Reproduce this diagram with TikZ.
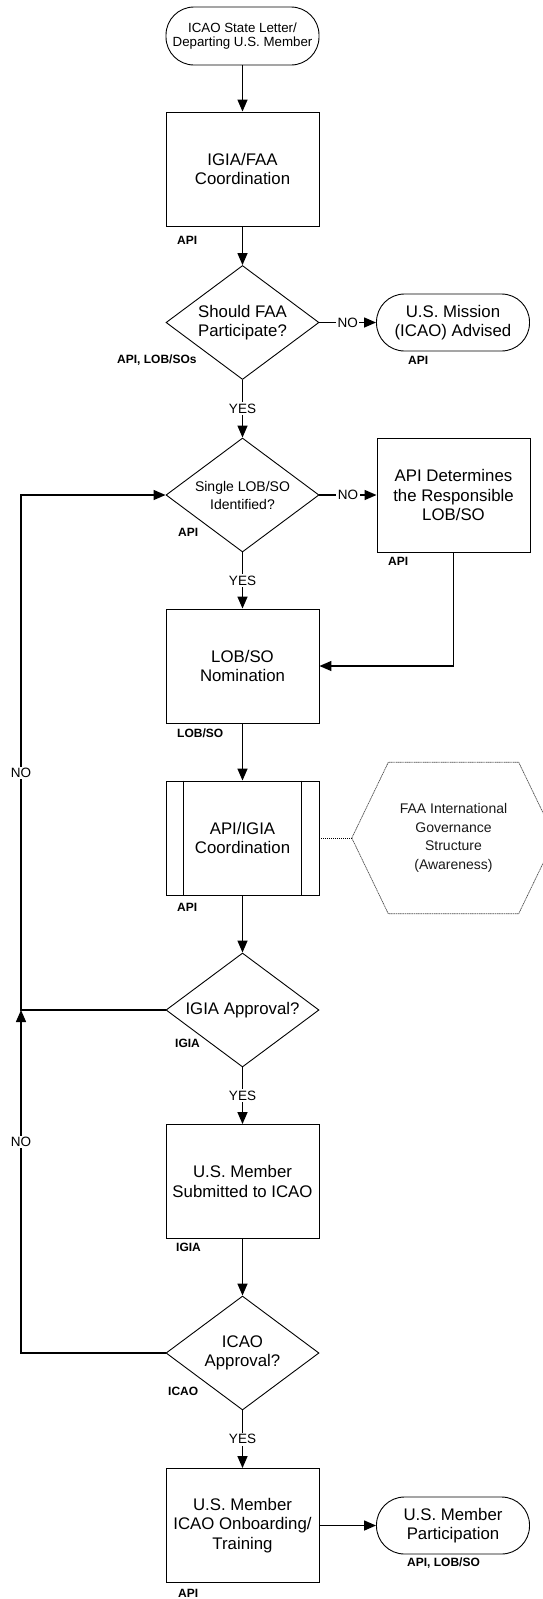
\documentclass[tikz,border=0pt]{standalone}
\usepackage{fontspec}
\setmainfont{Liberation Sans}
\usetikzlibrary{shapes.geometric, arrows.meta}

\begin{document}
\begin{tikzpicture}[x=1pt, y=-1pt,
        >={Triangle[length=12pt, width=10pt]},
        every node/.style={font=\fontsize{16.8}{19.5}\selectfont, align=center},
        proc/.style={draw, rectangle, line width=0.9pt, minimum width=153pt, minimum height=114pt, inner sep=2pt},
        term/.style={draw, rectangle, rounded corners=28pt, line width=0.9pt, minimum width=153pt, minimum height=57pt, inner sep=2pt},
        decide/.style={draw, diamond, aspect=1.34, line width=0.9pt, minimum width=153pt, minimum height=114pt, inner sep=0pt},
        owner/.style={font=\bfseries\fontsize{12}{13}\selectfont, inner sep=0pt, anchor=west},
        ans/.style={font=\fontsize{13.5}{14}\selectfont, fill=white, inner sep=1.5pt},
        flow/.style={line width=1.4pt}]
        \useasboundingbox (0,0) rectangle (543,1599);
        \clip (0,0) rectangle (543,1599);

        \node (start)   at (242.5,   36) [term, minimum height=58pt, font=\fontsize{13.3}{14.5}\selectfont] {ICAO State Letter/\\Departing U.S. Member};
        \node (igia)    at (242.5,  169) [proc] {IGIA/FAA\\Coordination};
        \node (fpart)   at (242.5,  322.5) [decide] {Should FAA\\Participate?};
        \node (mission) at (453.0,  322.5) [term] {U.S. Mission\\(ICAO) Advised};
        \node (single)  at (242.5,  495) [decide, font=\fontsize{14}{18}\selectfont] {Single LOB/SO\\Identified?};
        \node (determ)  at (453.5,  495) [proc] {API Determines\\the Responsible\\LOB/SO};
        \node (nomin)   at (242.5,  666) [proc] {LOB/SO\\Nomination};
        \node (coord)   at (242.5,  838) [proc] {API/IGIA\\Coordination};
        \node (gov)     at (453.5,  838) [minimum width=203pt, minimum height=151pt, inner sep=0pt, text=black!90, font=\fontsize{14}{18.5}\selectfont] {FAA International\\Governance\\Structure\\(Awareness)};
        \node (igiaok)  at (242.5, 1010) [decide] {IGIA Approval?};
        \node (submit)  at (242.5, 1181.5) [proc] {U.S. Member\\Submitted to ICAO};
        \node (icaook)  at (242.5, 1353) [decide] {ICAO\\Approval?};
        \node (onboard) at (242.5, 1525.5) [proc] {U.S. Member\\ICAO Onboarding/\\Training};
        \node (partic)  at (453.0, 1525.5) [term] {U.S. Member\\Participation};

        % who owns each step
        \node (igia-by)    at (177,  240) [owner] {API};
        \node (fpart-by)   at (117,  360) [owner] {API, LOB/SOs};
        \node (mission-by) at (408,  360) [owner] {API};
        \node (single-by)  at (178,  532) [owner] {API};
        \node (determ-by)  at (388,  561) [owner] {API};
        \node (nomin-by)   at (177,  733) [owner] {LOB/SO};
        \node (coord-by)   at (177,  907) [owner] {API};
        \node (igiaok-by)  at (175, 1043) [owner] {IGIA};
        \node (submit-by)  at (176, 1247) [owner] {IGIA};
        \node (icaook-by)  at (168, 1391) [owner] {ICAO};
        \node (onboard-by) at (178, 1593) [owner] {API};
        \node (partic-by)  at (407, 1563) [owner] {API, LOB/SO};

        \draw[line width=0.9pt] ([xshift=18pt]coord.north west) -- ([xshift=18pt]coord.south west);
        \draw[line width=0.9pt] ([xshift=-18pt]coord.north east) -- ([xshift=-18pt]coord.south east);
        \draw[black!70, dash pattern=on 1.2pt off 0.6pt, line width=0.7pt] (gov.west) -- ([xshift=36.5pt]gov.north west) -- ([xshift=-36.5pt]gov.north east)
            -- (gov.east) -- ([xshift=-36.5pt]gov.south east) -- ([xshift=36.5pt]gov.south west) -- cycle;

        \draw[flow, ->] (start) -- (igia);
        \draw[flow, ->] (igia) -- (fpart);
        \draw[flow, ->] (fpart) -- (mission) node[midway, ans] (no1) {NO};
        \draw[flow, ->] (fpart) -- (single) node[midway, ans] (yes1) {YES};
        \draw[flow, ->] (single) -- (determ) node[midway, ans] (no2) {NO};
        \draw[flow, ->] (single) -- (nomin) node[midway, ans] (yes2) {YES};
        \draw[flow, ->] (determ.south) |- (nomin.east);
        \draw[flow, ->] (nomin) -- (coord);
        \draw[densely dotted, line width=1pt] (coord) -- (gov);
        \draw[flow, ->] (coord) -- (igiaok);
        \draw[flow, ->] (igiaok) -- (submit) node[midway, ans] (yes3) {YES};
        \draw[flow, ->] (submit) -- (icaook);
        \draw[flow, ->] (icaook) -- (onboard) node[midway, ans] (yes4) {YES};
        \draw[flow, ->] (onboard) -- (partic);

        % way back to the start of the nomination
        \coordinate (back1) at (21, 1010);
        \coordinate (back2) at (21, 1353);
        \draw[flow, ->] (igiaok.west) -- (back1) |- (single.west) node[pos=0.23, ans] (no3) {NO};
        \draw[flow, ->] (icaook.west) -- (back2) -- (back1) node[pos=0.615, ans] (no4) {NO};
    \end{tikzpicture}
\end{document}
